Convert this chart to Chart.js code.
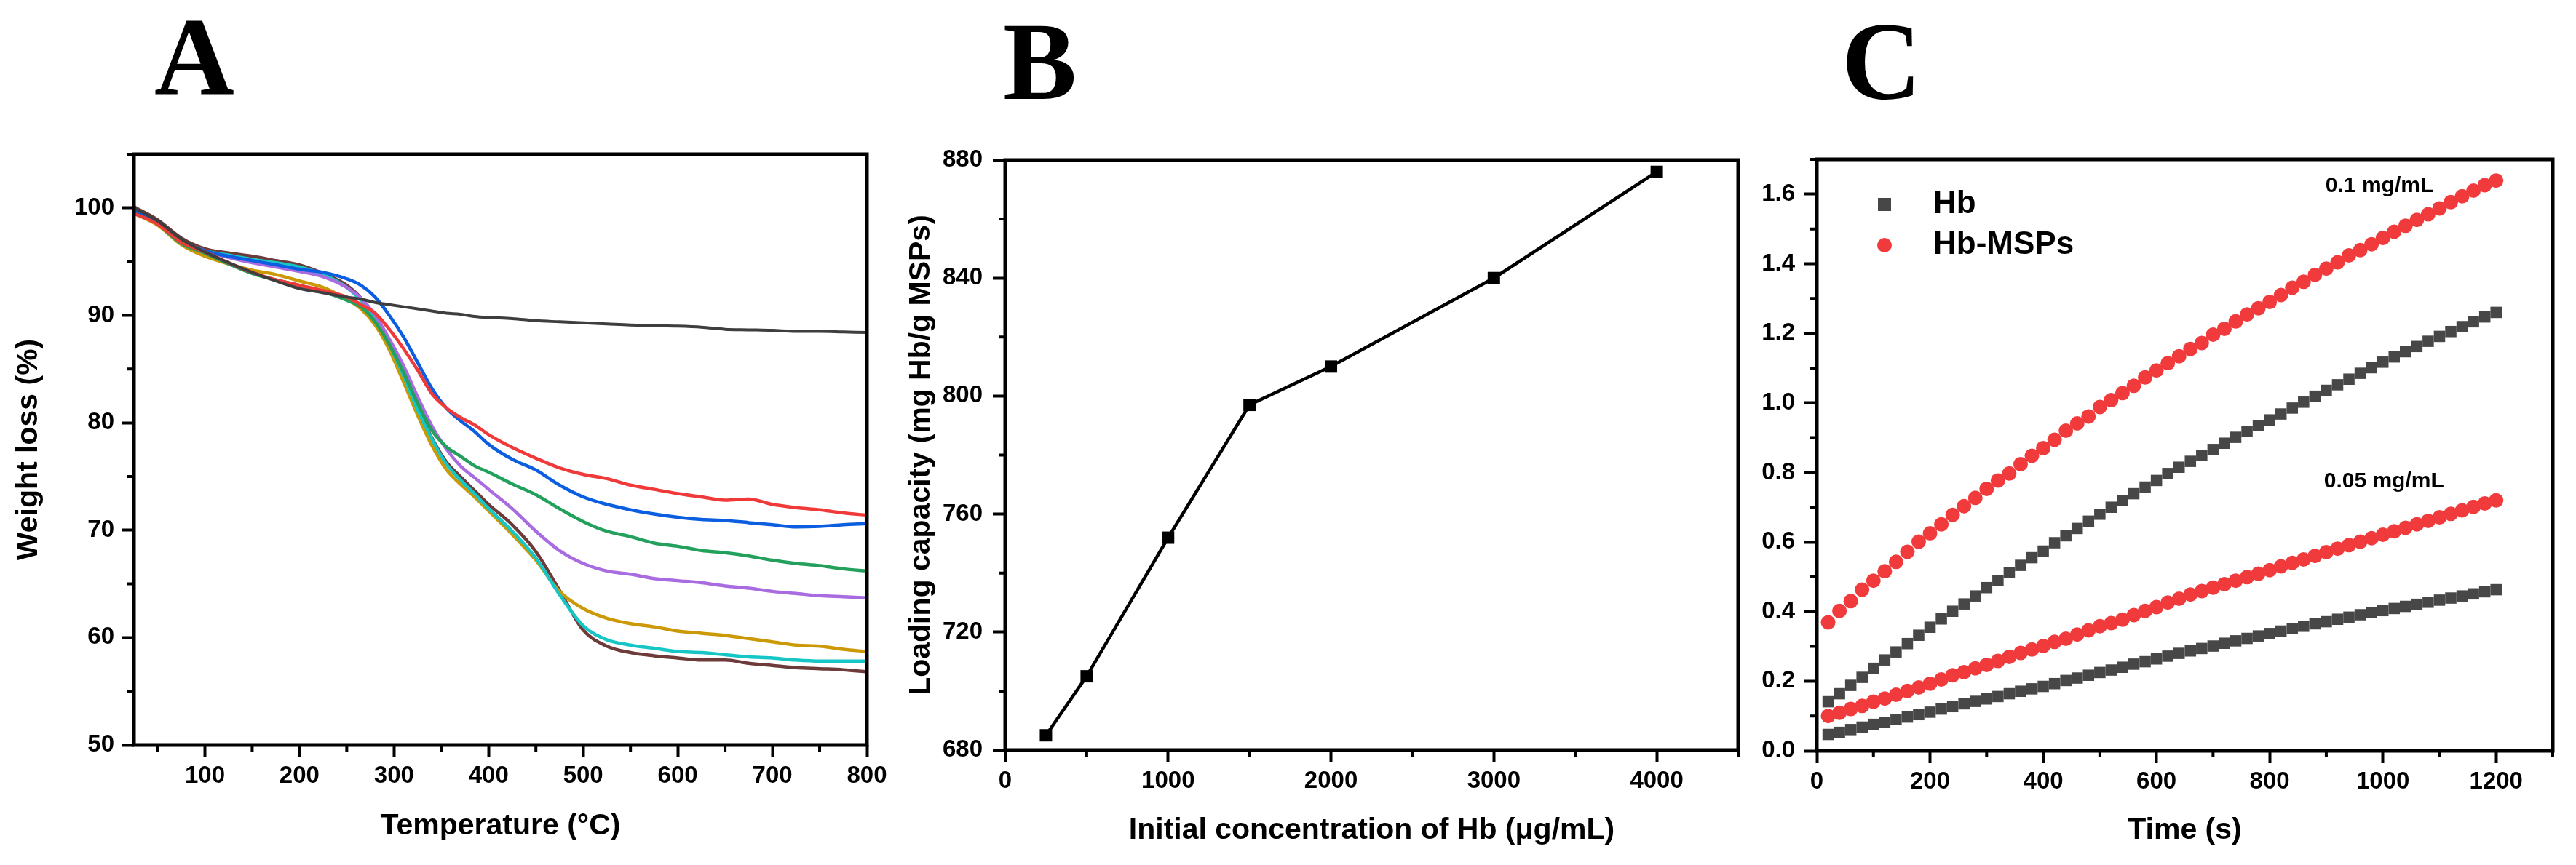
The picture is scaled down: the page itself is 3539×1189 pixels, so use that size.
<!DOCTYPE html>
<html lang="en">
<head>
<meta charset="UTF-8" />
<title>TGA, loading capacity and Hb activity</title>
<script src="https://cdn.jsdelivr.net/npm/chart.js"></script>
<style>
  body { margin: 0; background: #fff; width: 3539px; height: 1189px; position: relative; overflow: hidden; }
  canvas { position: absolute; top: 0; }
  .panel { position: absolute; font-family: "Liberation Serif", serif; font-weight: bold; font-size: 152px; line-height: 1; color: #000; }
</style>
</head>
<body>
<div class="panel" style="left:212px; top:2px">A</div>
<div class="panel" style="left:1378px; top:9px">B</div>
<div class="panel" style="left:2530px; top:9px">C</div>
<canvas id="chartA" width="1240" height="1189" style="left:0"></canvas>
<canvas id="chartB" width="1180" height="1189" style="left:1240px"></canvas>
<canvas id="chartC" width="1119" height="1189" style="left:2420px"></canvas>

<script>
// ---- A: TGA curves (weight %) ----
const tempA = [25, 50, 75, 100, 125, 150, 175, 200, 225, 250, 265, 280, 295, 310, 325, 340, 355, 370, 385, 400,
               425, 450, 475, 500, 525, 550, 575, 600, 625, 650, 675, 700, 725, 750, 775, 800];
const grayA = [100.0, 98.8, 97.1, 95.9, 94.9, 94.0, 93.2, 92.5, 92.1, 91.7, 91.5, 91.2, 91.0, 90.8, 90.6, 90.4, 90.2, 90.1, 89.9, 89.8,
               89.7, 89.5, 89.4, 89.3, 89.2, 89.1, 89.05, 89.0, 88.9, 88.7, 88.65, 88.6, 88.5, 88.5, 88.45, 88.4];
const redA = [99.5, 98.5, 96.8, 95.9, 94.9, 94.0, 93.3, 92.8, 92.3, 91.7, 91.0, 90.2, 88.7, 86.9, 84.9, 82.7, 81.4, 80.5, 79.8, 78.9,
              77.7, 76.7, 75.8, 75.2, 74.8, 74.2, 73.8, 73.4, 73.1, 72.8, 72.9, 72.4, 72.1, 71.9, 71.6, 71.4];
const blueA = [99.8, 98.7, 96.9, 96.0, 95.5, 95.1, 94.7, 94.3, 94.0, 93.4, 92.8, 91.7, 90.0, 88.0, 85.6, 83.2, 81.4, 80.2, 79.2, 78.0,
               76.6, 75.6, 74.2, 73.1, 72.4, 71.9, 71.5, 71.2, 71.0, 70.9, 70.7, 70.5, 70.3, 70.35, 70.5, 70.6];
const greenA = [99.8, 98.5, 96.7, 95.8, 94.8, 93.9, 93.3, 92.8, 92.2, 91.4, 90.8, 89.4, 87.3, 84.7, 81.8, 79.3, 77.8, 76.9, 76.0, 75.4,
                74.3, 73.3, 72.0, 70.8, 69.9, 69.4, 68.8, 68.5, 68.1, 67.9, 67.6, 67.2, 66.9, 66.7, 66.4, 66.2];
const purpleA = [99.9, 98.7, 97.0, 96.0, 95.4, 94.9, 94.5, 94.1, 93.6, 92.6, 91.6, 90.0, 87.8, 85.3, 82.4, 79.7, 77.6, 76.0, 74.9, 73.8,
                 72.0, 69.9, 68.1, 66.9, 66.2, 65.9, 65.5, 65.3, 65.1, 64.8, 64.6, 64.3, 64.1, 63.9, 63.8, 63.7];
const cyanA = [99.7, 98.6, 96.9, 96.0, 95.6, 95.2, 94.9, 94.5, 93.8, 92.6, 91.4, 89.6, 87.3, 84.4, 81.2, 78.5, 76.2, 74.7, 73.4, 72.0,
               69.9, 67.4, 64.0, 61.1, 59.8, 59.3, 59.0, 58.7, 58.6, 58.4, 58.2, 58.1, 57.9, 57.8, 57.8, 57.8];
const goldA = [99.5, 98.4, 96.6, 95.5, 94.8, 94.2, 93.8, 93.2, 92.6, 91.5, 90.6, 89.1, 86.8, 83.8, 80.7, 77.9, 75.7, 74.3, 73.1, 71.8,
               69.6, 67.2, 64.3, 62.7, 61.8, 61.3, 61.0, 60.6, 60.4, 60.2, 59.9, 59.6, 59.3, 59.2, 58.9, 58.7];
const brownA = [100.1, 98.9, 97.2, 96.2, 95.8, 95.5, 95.1, 94.7, 93.9, 92.8, 91.6, 89.8, 87.4, 84.5, 81.4, 78.6, 76.4, 75.0, 73.7, 72.4,
                70.5, 68.0, 64.4, 60.7, 59.2, 58.6, 58.3, 58.1, 57.9, 57.9, 57.6, 57.4, 57.2, 57.1, 57.0, 56.8];
const seriesA = [grayA, redA, blueA, greenA, purpleA, cyanA, goldA, brownA];
const colorsA = ["#3e3e3e", "#f03a3a", "#0b5ee0", "#22a05c", "#a96ce0", "#16c6c6", "#cc9906", "#6e3b3b"];
const ticksAX = [100, 200, 300, 400, 500, 600, 700, 800];
const ticksAY = [50, 60, 70, 80, 90, 100];
const minorAX = [50, 150, 250, 350, 450, 550, 650, 750];
const minorAY = [55, 65, 75, 85, 95, 105];

// ---- B: loading capacity ----
const concB = [250, 500, 1000, 1500, 2000, 3000, 4000];
const loadB = [685, 705, 752, 797, 810, 840, 876];
const ticksBX = [0, 1000, 2000, 3000, 4000];
const ticksBY = [680, 720, 760, 800, 840, 880];
const minorBX = [500, 1500, 2500, 3500, 4500];
const minorBY = [700, 740, 780, 820, 860];

// ---- C: absorbance vs time ----
const timeC = [20, 40, 60, 80, 100, 120, 140, 160, 180, 200, 220, 240, 260, 280, 300, 320, 340, 360, 380, 400,
               420, 440, 460, 480, 500, 520, 540, 560, 580, 600, 620, 640, 660, 680, 700, 720, 740, 760, 780, 800,
               820, 840, 860, 880, 900, 920, 940, 960, 980, 1000, 1020, 1040, 1060, 1080, 1100, 1120, 1140, 1160, 1180, 1200];
const hbMsps01 = [0.369, 0.402, 0.430, 0.463, 0.489, 0.516, 0.543, 0.572, 0.601, 0.625, 0.651, 0.678, 0.703, 0.727, 0.753, 0.777, 0.797, 0.824, 0.848, 0.870,
                  0.894, 0.920, 0.941, 0.961, 0.988, 1.008, 1.028, 1.049, 1.073, 1.093, 1.114, 1.134, 1.155, 1.172, 1.196, 1.213, 1.234, 1.254, 1.272, 1.290,
                  1.310, 1.331, 1.348, 1.368, 1.386, 1.404, 1.424, 1.439, 1.456, 1.474, 1.492, 1.509, 1.526, 1.542, 1.559, 1.577, 1.594, 1.610, 1.626, 1.639];
const hb01 = [0.141, 0.164, 0.188, 0.211, 0.237, 0.261, 0.284, 0.308, 0.332, 0.355, 0.379, 0.401, 0.422, 0.445, 0.469, 0.489, 0.512, 0.533, 0.555, 0.574,
              0.598, 0.618, 0.639, 0.660, 0.680, 0.700, 0.719, 0.739, 0.758, 0.777, 0.797, 0.815, 0.832, 0.849, 0.866, 0.884, 0.901, 0.918, 0.935, 0.951,
              0.968, 0.985, 1.002, 1.019, 1.036, 1.052, 1.068, 1.085, 1.101, 1.117, 1.132, 1.147, 1.162, 1.177, 1.191, 1.205, 1.219, 1.233, 1.247, 1.260];
const hbMsps005 = [0.100, 0.109, 0.120, 0.129, 0.141, 0.150, 0.161, 0.172, 0.182, 0.193, 0.205, 0.217, 0.226, 0.237, 0.247, 0.258, 0.270, 0.281, 0.291, 0.301,
                   0.313, 0.322, 0.334, 0.346, 0.358, 0.367, 0.377, 0.390, 0.402, 0.413, 0.426, 0.437, 0.449, 0.459, 0.469, 0.479, 0.489, 0.499, 0.509, 0.519,
                   0.530, 0.540, 0.550, 0.560, 0.571, 0.581, 0.591, 0.601, 0.611, 0.621, 0.631, 0.641, 0.651, 0.661, 0.671, 0.681, 0.691, 0.701, 0.711, 0.720];
const hb005 = [0.047, 0.053, 0.061, 0.068, 0.076, 0.082, 0.090, 0.097, 0.104, 0.111, 0.120, 0.127, 0.135, 0.142, 0.149, 0.156, 0.164, 0.171, 0.178, 0.185,
               0.193, 0.202, 0.209, 0.217, 0.225, 0.232, 0.240, 0.249, 0.256, 0.264, 0.272, 0.280, 0.287, 0.294, 0.301, 0.309, 0.316, 0.323, 0.330, 0.337,
               0.344, 0.351, 0.358, 0.365, 0.371, 0.378, 0.384, 0.391, 0.397, 0.403, 0.409, 0.415, 0.421, 0.427, 0.433, 0.439, 0.445, 0.451, 0.457, 0.463];
const ticksCX = [0, 200, 400, 600, 800, 1000, 1200];
const ticksCY = [0, 0.2, 0.4, 0.6, 0.8, 1.0, 1.2, 1.4, 1.6];
const minorCX = [100, 300, 500, 700, 900, 1100, 1300];
const minorCY = [0.1, 0.3, 0.5, 0.7, 0.9, 1.1, 1.3, 1.5, 1.7];
const legendC = ["Hb", "Hb-MSPs"];
const notesC = ["0.1 mg/mL", "0.05 mg/mL"];
const notesX = [994, 1002];
const notesY = [1.624, 0.774];
const hbColor = "#474747";
const mspColor = "#f03a3c";

Chart.defaults.font.family = "'Liberation Sans', Arial, sans-serif";
Chart.defaults.font.weight = "bold";
Chart.defaults.color = "#000";

function pts(xs, ys) {
    return xs.map((x, i) => ({ x: x, y: ys[i] }));
}

// box frame + short minor ticks, Origin style
const framePlugin = {
    id: "frame",
    afterDraw(chart, args, opts) {
        const { ctx, chartArea: a, scales } = chart;
        ctx.save();
        ctx.strokeStyle = "#000";
        ctx.lineWidth = 4;
        ctx.beginPath();
        (opts.minorX || []).forEach((v) => {
            const px = scales.x.getPixelForValue(v);
            ctx.moveTo(px, a.bottom);
            ctx.lineTo(px, a.bottom + 9);
        });
        (opts.minorY || []).forEach((v) => {
            const py = scales.y.getPixelForValue(v);
            ctx.moveTo(a.left - 9, py);
            ctx.lineTo(a.left, py);
        });
        ctx.stroke();
        ctx.lineWidth = 5;
        ctx.strokeRect(a.left, a.top, a.right - a.left, a.bottom - a.top);
        ctx.restore();
    },
};

function axis(o) {
    const cfg = {
        type: "linear",
        min: o.min,
        max: o.max,
        border: { display: false },
        grid: { drawOnChartArea: false, drawTicks: true, tickLength: 17, tickWidth: 4, tickColor: "#000" },
        afterBuildTicks: (s) => {
            s.ticks = o.ticks.map((v) => ({ value: v }));
        },
        ticks: {
            padding: o.pad,
            autoSkip: false,
            maxRotation: 0,
            font: { size: 33, weight: "bold" },
            color: "#000",
            callback: o.fmt || ((v) => v),
        },
        title: {
            display: !!o.title,
            text: o.title,
            font: { size: 41, weight: "bold" },
            color: "#000",
            padding: o.titlePad || 0,
        },
    };
    if (o.width) cfg.afterFit = (s) => { s.width = o.width; };
    if (o.height) cfg.afterFit = (s) => { s.height = o.height; };
    return cfg;
}

const baseOpts = {
    responsive: false,
    animation: false,
    events: [],
};

// ---- Chart A ----
new Chart(document.getElementById("chartA"), {
    type: "scatter",
    data: {
        datasets: seriesA.map((s, i) => ({
            data: pts(tempA, s),
            showLine: true,
            borderColor: colorsA[i],
            borderWidth: i === 0 ? 4 : 4.5,
            pointRadius: 0,
            cubicInterpolationMode: "monotone",
        })),
    },
    options: Object.assign({}, baseOpts, {
        layout: { padding: { left: 0, top: 212, right: 49, bottom: 0 } },
        scales: {
            x: axis({ min: 25, max: 800, ticks: ticksAX, pad: 6, height: 165, title: "Temperature (°C)", titlePad: { top: 0, bottom: 29 } }),
            y: axis({ min: 50, max: 105, ticks: ticksAY, pad: 10, width: 184, title: "Weight loss (%)", titlePad: { top: 15, bottom: 0 } }),
        },
        plugins: {
            legend: { display: false },
            tooltip: { enabled: false },
            frame: { minorX: minorAX, minorY: minorAY },
        },
    }),
    plugins: [framePlugin],
});

// ---- Chart B ----
new Chart(document.getElementById("chartB"), {
    type: "scatter",
    data: {
        datasets: [{
            data: pts(concB, loadB),
            showLine: true,
            borderColor: "#000",
            borderWidth: 4.5,
            pointStyle: "rect",
            pointRadius: 12,
            pointBackgroundColor: "#000",
            pointBorderWidth: 0,
        }],
    },
    options: Object.assign({}, baseOpts, {
        layout: { padding: { left: 0, top: 220, right: 32, bottom: 0 } },
        scales: {
            x: axis({ min: 0, max: 4500, ticks: ticksBX, pad: 6, height: 158, title: "Initial concentration of Hb (μg/mL)", titlePad: { top: 0, bottom: 23 } }),
            y: axis({ min: 680, max: 880, ticks: ticksBY, pad: 14, width: 141, title: "Loading capacity (mg Hb/g MSPs)", titlePad: { top: 1, bottom: 0 } }),
        },
        plugins: {
            legend: { display: false },
            tooltip: { enabled: false },
            frame: { minorX: minorBX, minorY: minorBY },
        },
    }),
    plugins: [framePlugin],
});

// ---- Chart C ----
const notesPlugin = {
    id: "notes",
    afterDraw(chart) {
        const { ctx, chartArea: a, scales } = chart;
        ctx.save();
        // legend inside the plot, top-left
        const rows = [a.top + 62, a.top + 118];
        ctx.fillStyle = hbColor;
        ctx.fillRect(a.left + 93 - 9, rows[0] - 9, 18, 18);
        ctx.fillStyle = mspColor;
        ctx.beginPath();
        ctx.arc(a.left + 93, rows[1], 10, 0, Math.PI * 2);
        ctx.fill();
        ctx.fillStyle = "#000";
        ctx.font = "bold 44px 'Liberation Sans', Arial, sans-serif";
        ctx.textBaseline = "middle";
        ctx.textAlign = "left";
        legendC.forEach((t, i) => ctx.fillText(t, a.left + 160, rows[i]));
        // concentration labels
        ctx.font = "bold 30px 'Liberation Sans', Arial, sans-serif";
        ctx.textAlign = "center";
        notesC.forEach((t, i) => ctx.fillText(t, scales.x.getPixelForValue(notesX[i]), scales.y.getPixelForValue(notesY[i])));
        ctx.restore();
    },
};

new Chart(document.getElementById("chartC"), {
    type: "scatter",
    data: {
        datasets: [
            { label: "Hb", data: pts(timeC, hb01), pointStyle: "rect", pointRadius: 11, backgroundColor: hbColor, borderWidth: 0 },
            { label: "Hb-MSPs", data: pts(timeC, hbMsps01), pointStyle: "circle", pointRadius: 10, backgroundColor: mspColor, borderWidth: 0 },
            { label: "Hb 0.05", data: pts(timeC, hb005), pointStyle: "rect", pointRadius: 11, backgroundColor: hbColor, borderWidth: 0 },
            { label: "Hb-MSPs 0.05", data: pts(timeC, hbMsps005), pointStyle: "circle", pointRadius: 10, backgroundColor: mspColor, borderWidth: 0 },
        ],
    },
    options: Object.assign({}, baseOpts, {
        layout: { padding: { left: 0, top: 219, right: 32, bottom: 0 } },
        scales: {
            x: axis({ min: 0, max: 1300, ticks: ticksCX, pad: 6, height: 157, title: "Time (s)", titlePad: { top: 0, bottom: 23 } }),
            y: axis({ min: 0, max: 1.7, ticks: ticksCY, pad: 13, width: 76, fmt: (v) => v.toFixed(1) }),
        },
        plugins: {
            legend: { display: false },
            tooltip: { enabled: false },
            frame: { minorX: minorCX, minorY: minorCY },
        },
    }),
    plugins: [framePlugin, notesPlugin],
});
</script>
</body>
</html>
